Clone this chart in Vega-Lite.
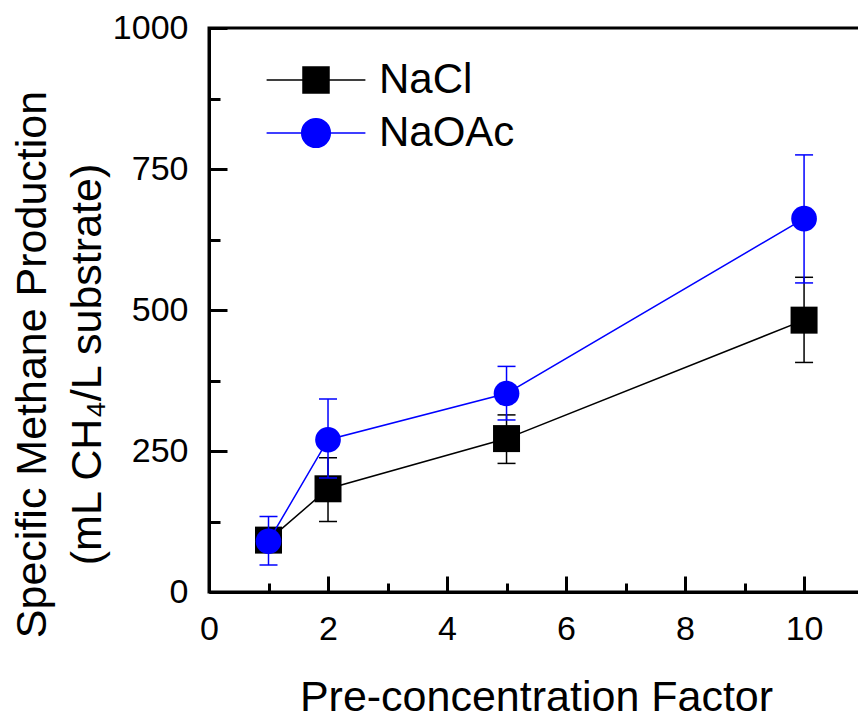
{
  "$schema": "https://vega.github.io/schema/vega-lite/v6.json",
  "width": 651,
  "height": 564,
  "autosize": "none",
  "padding": {"left": 209, "top": 28, "right": 0, "bottom": 126},
  "config": {"font": "Liberation Sans", "view": {"stroke": "black", "strokeWidth": 3}},
  "data": {
    "values": [
      {"series": "NaCl", "x": 1, "y": 92, "lo": 74, "hi": 110},
      {"series": "NaCl", "x": 2, "y": 183, "lo": 125, "hi": 238},
      {"series": "NaCl", "x": 5, "y": 272, "lo": 228, "hi": 314},
      {"series": "NaCl", "x": 10, "y": 482, "lo": 407, "hi": 558},
      {"series": "NaOAc", "x": 1, "y": 90, "lo": 48, "hi": 134},
      {"series": "NaOAc", "x": 2, "y": 270, "lo": 202, "hi": 342},
      {"series": "NaOAc", "x": 5, "y": 352, "lo": 305, "hi": 400},
      {"series": "NaOAc", "x": 10, "y": 662, "lo": 548, "hi": 775}
    ]
  },
  "encoding": {
    "x": {
      "field": "x", "type": "quantitative",
      "scale": {"domain": [0, 10.94], "nice": false, "zero": false},
      "axis": {
        "values": [0, 1, 2, 3, 4, 5, 6, 7, 8, 9, 10],
        "labelExpr": "datum.value % 2 === 0 ? datum.label : ''",
        "tickSize": {"condition": {"test": "datum.value % 2 === 1", "value": -9}, "value": -16},
        "tickWidth": 3, "tickColor": "black",
        "domainColor": "black", "domainWidth": 3,
        "labelFontSize": 34, "labelColor": "black", "labelPadding": 36, "labelFlush": false,
        "grid": false,
        "title": "Pre-concentration Factor",
        "titleFontSize": 43, "titleFontWeight": "normal", "titleColor": "black",
        "titleX": 327, "titleY": 118, "titleAlign": "center", "titleBaseline": "alphabetic"
      }
    },
    "y": {
      "field": "y", "type": "quantitative",
      "scale": {"domain": [0, 1000], "nice": false},
      "axis": {
        "values": [0, 125, 250, 375, 500, 625, 750, 875, 1000],
        "format": "d",
        "labelExpr": "datum.value % 250 === 0 ? datum.label : ''",
        "tickSize": {"condition": {"test": "datum.value % 250 !== 0", "value": -11}, "value": -18},
        "tickWidth": 3, "tickColor": "black",
        "domainColor": "black", "domainWidth": 3,
        "labelFontSize": 34, "labelColor": "black", "labelPadding": 39,
        "grid": false,
        "title": ["Specific Methane Production", "(mL CH₄/L substrate)"],
        "titleFontSize": 43, "titleFontWeight": "normal", "titleColor": "black",
        "titleLineHeight": 55,
        "titleX": -164, "titleY": 336, "titleAlign": "center", "titleBaseline": "alphabetic", "titleAngle": -90
      }
    },
    "color": {
      "field": "series", "type": "nominal",
      "scale": {"domain": ["NaCl", "NaOAc"], "range": ["black", "#0000ff"]},
      "legend": {
        "orient": "none", "legendX": 86, "legendY": 31, "title": null,
        "labelFontSize": 42, "labelColor": "black", "labelOffset": 42,
        "symbolSize": 676, "rowPadding": 11, "padding": 0,
        "encode": {
          "symbols": {
            "update": {
              "shape": [
                {"test": "datum.value === 'NaCl'", "value": "M-3.8,0H-1M1,0H3.8M-1,-1H1V1H-1Z"},
                {"value": "M-3.8,0H-1.1M1.1,0H3.8M-1.1,0A1.1,1.1,0,1,0,1.1,0A1.1,1.1,0,1,0,-1.1,0Z"}
              ],
              "fill": [{"test": "datum.value === 'NaCl'", "value": "black"}, {"value": "#0000ff"}],
              "stroke": [{"test": "datum.value === 'NaCl'", "value": "black"}, {"value": "#0000ff"}],
              "strokeWidth": {"value": 1.5},
              "opacity": {"value": 1}
            }
          }
        }
      }
    }
  },
  "layer": [
    {
      "transform": [{"filter": "datum.series === 'NaCl'"}],
      "layer": [
        {"mark": {"type": "rule", "strokeWidth": 1.5}, "encoding": {"y": {"field": "lo", "type": "quantitative"}, "y2": {"field": "hi"}}},
        {"mark": {"type": "tick", "orient": "horizontal", "size": 18, "thickness": 1.5, "opacity": 1}, "encoding": {"y": {"field": "lo", "type": "quantitative"}}},
        {"mark": {"type": "tick", "orient": "horizontal", "size": 18, "thickness": 1.5, "opacity": 1}, "encoding": {"y": {"field": "hi", "type": "quantitative"}}},
        {"mark": {"type": "line", "strokeWidth": 1.5}},
        {"mark": {"type": "point", "filled": true, "opacity": 1, "shape": "square", "size": 729}}
      ]
    },
    {
      "transform": [{"filter": "datum.series === 'NaOAc'"}],
      "layer": [
        {"mark": {"type": "rule", "strokeWidth": 1.5}, "encoding": {"y": {"field": "lo", "type": "quantitative"}, "y2": {"field": "hi"}}},
        {"mark": {"type": "tick", "orient": "horizontal", "size": 18, "thickness": 1.5, "opacity": 1}, "encoding": {"y": {"field": "lo", "type": "quantitative"}}},
        {"mark": {"type": "tick", "orient": "horizontal", "size": 18, "thickness": 1.5, "opacity": 1}, "encoding": {"y": {"field": "hi", "type": "quantitative"}}},
        {"mark": {"type": "line", "strokeWidth": 1.5}},
        {"mark": {"type": "point", "filled": true, "opacity": 1, "shape": "circle", "size": 660}}
      ]
    }
  ]
}
